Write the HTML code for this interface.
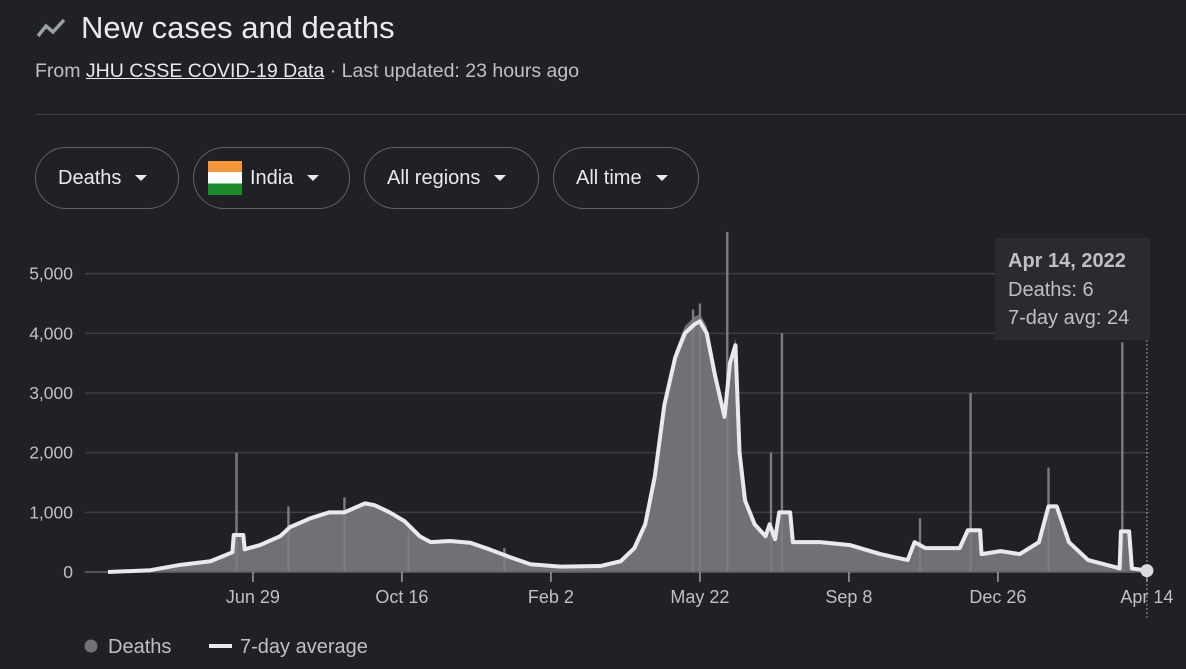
<!DOCTYPE html>
<html><head><meta charset="utf-8"><style>
body{margin:0;background:#202124;width:1186px;height:669px;overflow:hidden;font-family:"Liberation Sans",Arial,sans-serif;color:#e8eaed;position:relative}
.abs{position:absolute}
.btn{position:absolute;top:147px;height:62px;border:1px solid #5f6368;border-radius:31px;box-sizing:border-box;font-size:20px;color:#e8eaed;display:flex;align-items:center;padding-left:22px}
.tri{display:inline-block;width:0;height:0;border-left:6px solid transparent;border-right:6px solid transparent;border-top:6px solid #e8eaed;margin-left:14px}
</style></head><body>
<svg class="abs" style="left:36px;top:16px" width="34" height="24"><polyline points="2,20 10,10 17,16 28,4" fill="none" stroke="#9aa0a6" stroke-width="3.5"/></svg>
<div class="abs" style="left:81px;top:10px;font-size:31px">New cases and deaths</div>
<div class="abs" style="left:35px;top:60px;font-size:19.5px;color:#bdc1c6">From <span style="text-decoration:underline;color:#e8eaed">JHU CSSE COVID-19 Data</span> · Last updated: 23 hours ago</div>
<div class="abs" style="left:35px;top:114px;width:1151px;height:1px;background:#3c4043"></div>
<div class="btn" style="left:35px;width:144px">Deaths<span class="tri"></span></div>
<div class="btn" style="left:193px;width:157px;padding-left:14px"><span style="display:inline-block;width:34px;height:34px;margin-right:8px;background:linear-gradient(#f4973a 0 33%,#fff 33% 66%,#1a8a2a 66%)"></span>India<span class="tri"></span></div>
<div class="btn" style="left:364px;width:175px">All regions<span class="tri"></span></div>
<div class="btn" style="left:553px;width:146px">All time<span class="tri"></span></div>
<svg id="chart" class="abs" style="left:0;top:220px" width="1186" height="449"></svg>
<script>
const yTicks=[0,1000,2000,3000,4000,5000];
const xLabels=["Jun 29","Oct 16","Feb 2","May 22","Sep 8","Dec 26","Apr 14"];
const xLabelDays=[106,215,324,433,542,651,760];
const avgDays=[0,31,53,75,91,92,99,100,111,126,133,148,162,173,188,195,206,217,228,236,250,265,279,294,309,331,360,375,385,393,400,407,415,422,429,433,438,444,451,455,459,462,466,473,481,484,488,491,499,501,521,543,565,585,590,598,609,623,629,638,639,653,667,681,688,694,703,717,737,740,741,747,749,760];
const avgVals=[0,30,120,180,330,620,620,380,450,600,750,900,1000,1000,1150,1120,1000,850,600,500,520,490,380,250,130,90,100,180,400,800,1600,2800,3600,4000,4150,4200,4000,3300,2600,3500,3800,2000,1200,800,600,800,550,1000,1000,500,500,450,300,200,500,400,400,400,700,700,300,350,300,500,1100,1100,500,200,80,60,680,680,60,24];
const spikeDays=[94,132,173,220,290,428,433,453,485,493,594,631,688,742];
const spikeVals=[2000,1100,1250,700,400,4400,4500,5700,2000,4000,900,3000,1750,3850];
const svg=document.getElementById('chart'),NS='http://www.w3.org/2000/svg';
const X=d=>108+d*1.367, Y=v=>352-v*0.05967;
function mk(t,a){const e=document.createElementNS(NS,t);for(const k in a)e.setAttribute(k,a[k]);svg.appendChild(e);return e;}
yTicks.forEach(v=>{const l=mk('line',{x1:85,x2:1150,y1:Y(v),y2:Y(v),stroke:'#3c4043','stroke-width':1.5});


const t=mk('text',{x:73,y:Y(v)+6,'text-anchor':'end',fill:'#bdc1c6','font-size':17.5});t.textContent=v.toLocaleString('en-US');

});
let d='M'+X(avgDays[0])+','+Y(0);avgDays.forEach((dd,i)=>d+='L'+X(dd)+','+Y(avgVals[i]*1.03));d+='L'+X(760)+','+Y(0)+'Z';
const area=mk('path',{d:d,fill:'#6f7174'});


spikeDays.forEach((dd,i)=>{const r=mk('rect',{x:X(dd)-1.2,y:Y(spikeVals[i]),width:2.4,height:Y(0)-Y(spikeVals[i]),fill:'#7a7c7f'});

});
const ax=mk('line',{x1:85,x2:1150,y1:Y(0),y2:Y(0),stroke:'#5f6368','stroke-width':1.5});


const pts=avgDays.map((dd,i)=>X(dd)+','+Y(avgVals[i])).join(' ');
const ln=mk('polyline',{points:pts,fill:'none',stroke:'#e8eaed','stroke-width':4,'stroke-linejoin':'round'});


xLabels.forEach((s,i)=>{const tk=mk('line',{x1:X(xLabelDays[i]),x2:X(xLabelDays[i]),y1:Y(0),y2:Y(0)+10,stroke:'#9aa0a6','stroke-width':1.5});


const t=mk('text',{x:X(xLabelDays[i]),y:Y(0)+31,'text-anchor':'middle',fill:'#bdc1c6','font-size':18});t.textContent=s;

});
const hl=mk('line',{x1:X(760),x2:X(760),y1:80,y2:400,stroke:'#9aa0a6','stroke-dasharray':'2,2'});


const tb=mk('rect',{x:995,y:18,width:155,height:102,fill:'#2a2b2e'});


[['Apr 14, 2022',47,'bold'],['Deaths: 6',76,'normal'],['7-day avg: 24',104,'normal']].forEach(a=>{const t=mk('text',{x:1008,y:a[1],fill:'#bdc1c6','font-size':20,'font-weight':a[2]});t.textContent=a[0];

});
const dot=mk('circle',{cx:X(760),cy:Y(6)-1,r:6.5,fill:'#dadce0'});


const lc=mk('circle',{cx:91,cy:426,r:6.5,fill:'#6f7174'});


const lt=mk('text',{x:108,y:433,fill:'#bdc1c6','font-size':20});lt.textContent='Deaths';


const ll=mk('line',{x1:209,x2:232,y1:426,y2:426,stroke:'#e8eaed','stroke-width':4});


const lt2=mk('text',{x:240,y:433,fill:'#bdc1c6','font-size':20});lt2.textContent='7-day average';


</script>
</body></html>
